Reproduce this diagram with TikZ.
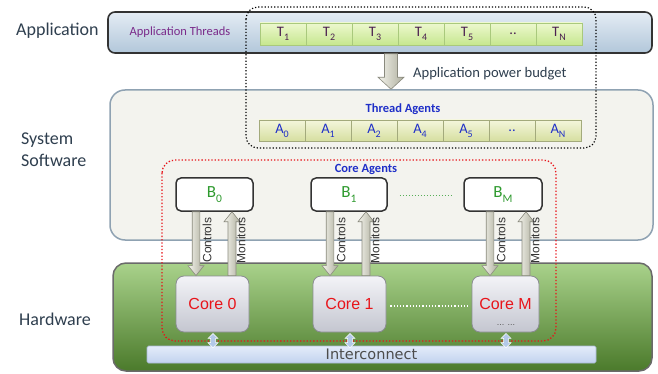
\documentclass[tikz,border=0pt]{standalone}
\usepackage{fontspec}
\setmainfont{Carlito}
\newfontfamily\arialfont{Liberation Sans}
\newfontfamily\wideface{DejaVu Sans}
\usetikzlibrary{calc}

\definecolor{appTop}{HTML}{E4ECF4}
\definecolor{appBot}{HTML}{B2C7DA}
\definecolor{appEdge}{HTML}{333333}
\definecolor{sysFill}{HTML}{F3F3EE}
\definecolor{sysEdge}{HTML}{8FA2B2}
\definecolor{hwTop}{HTML}{A9D28B}
\definecolor{hwMid}{HTML}{78AE4C}
\definecolor{hwBot}{HTML}{4B7A2B}
\definecolor{hwEdge}{HTML}{6A6A6A}
\definecolor{tTop}{HTML}{EDF8CF}
\definecolor{tBot}{HTML}{C6E78E}
\definecolor{tEdge}{HTML}{A9C97C}
\definecolor{tText}{HTML}{4B2050}
\definecolor{aTop}{HTML}{F4F6DC}
\definecolor{aBot}{HTML}{D6DFA0}
\definecolor{aEdge}{HTML}{A3AA7C}
\definecolor{agentBlue}{HTML}{1F2FC8}
\definecolor{bGreen}{HTML}{2E9A2E}
\definecolor{coreTop}{HTML}{F3F3F7}
\definecolor{coreBot}{HTML}{C4C6D0}
\definecolor{coreEdge}{HTML}{8A8C92}
\definecolor{coreRed}{HTML}{E8141A}
\definecolor{icTop}{HTML}{E4ECFA}
\definecolor{icBot}{HTML}{C2D3EE}
\definecolor{icEdge}{HTML}{A9B9D6}
\definecolor{arrLight}{HTML}{F4F4EC}
\definecolor{arrDark}{HTML}{AEAE9E}
\definecolor{arrEdge}{HTML}{8A8A7E}
\definecolor{linkBlue}{HTML}{B3C9E8}
\definecolor{titleInk}{HTML}{2F3F4F}
\definecolor{threadPurple}{HTML}{7A2A8A}

% subscript index set below the baseline
\newcommand{\lowidx}[1]{\raisebox{-0.55ex}{\fontsize{10}{10}\selectfont #1}}
\newcommand{\lowidxb}[1]{\raisebox{-0.55ex}{\fontsize{11.5}{11.5}\selectfont #1}}

% block arrow pointing down: style, top point, tip, half shaft, half head, head length
\newcommand{\blockdown}[6]{\path[#1] let \p1=(#2), \p2=(#3) in
  ({\x1-#4},\y1) -- ({\x1+#4},\y1) -- ({\x1+#4},{\y2+#6}) -- ({\x1+#5},{\y2+#6})
  -- (\x1,\y2) -- ({\x1-#5},{\y2+#6}) -- ({\x1-#4},{\y2+#6}) -- cycle;}
% block arrow pointing up: style, base point, tip, half shaft, half head, head length
\newcommand{\blockup}[6]{\path[#1] let \p1=(#2), \p2=(#3) in
  ({\x1-#4},\y1) -- ({\x1+#4},\y1) -- ({\x1+#4},{\y2-#6}) -- ({\x1+#5},{\y2-#6})
  -- (\x1,\y2) -- ({\x1-#5},{\y2-#6}) -- ({\x1-#4},{\y2-#6}) -- cycle;}
% small two-headed link: top tip, bottom tip
\newcommand{\linkarrow}[2]{\path[linkarrow] let \p1=(#1), \p2=(#2) in
  (\x1,\y1) -- ({\x1+5pt},{\y1-5pt}) -- ({\x1+2.5pt},{\y1-5pt}) -- ({\x1+2.5pt},{\y2+5pt})
  -- ({\x1+5pt},{\y2+5pt}) -- (\x1,\y2) -- ({\x1-5pt},{\y2+5pt}) -- ({\x1-2.5pt},{\y2+5pt})
  -- ({\x1-2.5pt},{\y1-5pt}) -- ({\x1-5pt},{\y1-5pt}) -- cycle;}

\begin{document}
\begin{tikzpicture}[x=1pt,y=-1pt,
  lefttitle/.style={font=\fontsize{18}{22}\selectfont, text=titleInk, align=left, inner sep=0pt},
  appband/.style={draw=appEdge, line width=1.6pt, rounded corners=7pt, top color=appTop, bottom color=appBot, inner sep=0pt},
  sysband/.style={draw=sysEdge, line width=1.5pt, rounded corners=15pt, fill=sysFill, inner sep=0pt},
  hwband/.style={draw=hwEdge, line width=1.5pt, rounded corners=13pt, top color=hwTop, middle color=hwMid, bottom color=hwBot, inner sep=0pt},
  tbox/.style={draw=tEdge, line width=0.6pt, top color=tTop, bottom color=tBot, minimum width=46pt, minimum height=22pt, inner sep=0pt, text=tText, font=\fontsize{14.5}{14.5}\selectfont},
  abox/.style={draw=aEdge, line width=0.6pt, top color=aTop, bottom color=aBot, minimum width=46pt, minimum height=21pt, inner sep=0pt, text=agentBlue, font=\fontsize{14.5}{14.5}\selectfont},
  agentbox/.style={draw=appEdge, line width=1.5pt, rounded corners=5pt, fill=white, minimum height=33pt, inner sep=0pt, text=bGreen, font=\fontsize{17}{17}\selectfont},
  corebox/.style={draw=coreEdge, line width=0.8pt, rounded corners=8pt, top color=coreTop, bottom color=coreBot, minimum height=56pt, inner sep=0pt, text=coreRed, font=\arialfont\fontsize{16}{16}\selectfont},
  ctlarrow/.style={draw=arrEdge, line width=0.6pt, left color=arrLight, right color=arrDark},
  linkarrow/.style={draw=white, line width=0.5pt, fill=linkBlue},
  sidelabel/.style={rotate=90, font=\arialfont\fontsize{12}{12}\selectfont, text=black!80, inner sep=0pt},
  grouptitle/.style={font=\bfseries\fontsize{12.5}{12.5}\selectfont, text=agentBlue, inner sep=0pt}]

\useasboundingbox (0,0) rectangle (658,374);
\fill[white] (0,0) rectangle (658,374);

% layer bands
\node[sysband, minimum width=543pt, minimum height=150pt] (sys) at (381.5,165) {};
\node[hwband, minimum width=539pt, minimum height=108pt] (hw) at (382.5,317) {};
\node[appband, minimum width=544pt, minimum height=41pt] (app) at (380,32.5) {};

% layer titles
\node[lefttitle, anchor=west] (tapp) at (16,31) {Application};
\node[lefttitle, anchor=west] (tsys) at (21,150) {System\\Software};
\node[lefttitle, anchor=west] (thw) at (19,319) {Hardware};

% application threads
\node[text=threadPurple, font=\fontsize{12.5}{12.5}\selectfont, inner sep=0pt] (athr) at (180,32) {Application Threads};
\foreach \lab [count=\i from 0] in {{T\lowidx{1}},{T\lowidx{2}},{T\lowidx{3}},{T\lowidx{4}},{T\lowidx{5}},{..},{T\lowidx{N}}}
  \node[tbox] (t\i) at ({283+46*\i},34) {\lab};

% thread agents
\node[grouptitle] (tag) at (403,109) {Thread Agents};
\foreach \lab [count=\i from 0] in {{A\lowidx{0}},{A\lowidx{1}},{A\lowidx{2}},{A\lowidx{4}},{A\lowidx{5}},{..},{A\lowidx{N}}}
  \node[abox] (a\i) at ({282+46*\i},130.5) {\lab};

% power budget arrow
\coordinate (pb) at (391,0);
\blockdown{ctlarrow}{pb |- app.south}{pb |- sys.north}{6.5pt}{13pt}{12pt}
\node[text=titleInk, font=\fontsize{14.6}{14.6}\selectfont, anchor=west, inner sep=0pt] (pbl) at (413,74) {Application power budget};

% application scope
\draw[dotted, line width=1.2pt, rounded corners=12pt] (246,7) rectangle (596,148);

% core agents
\node[grouptitle] (cag) at (366,169) {Core Agents};
\node[agentbox, minimum width=77pt] (b0) at (214.5,194.5) {B\lowidxb{0}};
\node[agentbox, minimum width=76pt] (b1) at (349,194.5) {B\lowidxb{1}};
\node[agentbox, minimum width=78pt] (bM) at (503,194.5) {B\lowidxb{M}};
\draw[bGreen!80, dotted, line width=1pt] ($(b1.east)+(12,1)$) -- ($(bM.west)+(-11,1)$);

% cores
\node[corebox, minimum width=73pt] (core0) at (212.5,304) {Core 0};
\node[corebox, minimum width=73pt] (core1) at (349.5,304) {Core 1};
\node[corebox, minimum width=67pt] (coreM) at (505.5,304) {\raisebox{1pt}{Core M}};
\node[font=\arialfont\fontsize{9}{9}\selectfont, text=black!65, inner sep=0pt] (cdots) at (506,325) {... ...};
\draw[white, dotted, line width=1.2pt] ($(core1.east)+(4,2)$) -- ($(coreM.west)+(-3,2)$);

% controls and monitors
\foreach \b/\c/\xc/\xm in {b0/core0/196/232, b1/core1/330/366, bM/coreM/490/526} {
  \coordinate (xc) at (\xc,0);
  \coordinate (xm) at (\xm,0);
  \blockdown{ctlarrow}{xc |- \b.south}{xc |- \c.north}{3.8pt}{8pt}{10pt}
  \blockup{ctlarrow}{xm |- \c.north}{xm |- \b.south}{4pt}{8pt}{10pt}
  \node[sidelabel] at ({\xc+11},240) {Controls};
  \node[sidelabel] at ({\xm+9},240) {Monitors};
}

% core agent scope
\draw[coreRed, dotted, line width=1.3pt, rounded corners=13pt] (162,160) rectangle (556,341);

% interconnect
\node[draw=icEdge, line width=0.6pt, rounded corners=1.5pt, top color=icTop, bottom color=icBot, minimum width=449pt, minimum height=17pt, inner sep=0pt, text=black!70, font=\wideface\fontsize{14.5}{14.5}\selectfont] (ic) at (371.5,354.5) {Interconnect};

\foreach \c/\xl in {core0/213, core1/350, coreM/506} {
  \coordinate (xl) at (\xl,0);
  \linkarrow{$(xl |- \c.south)+(0,1)$}{$(xl |- ic.north)+(0,2)$}
}
\end{tikzpicture}
\end{document}
